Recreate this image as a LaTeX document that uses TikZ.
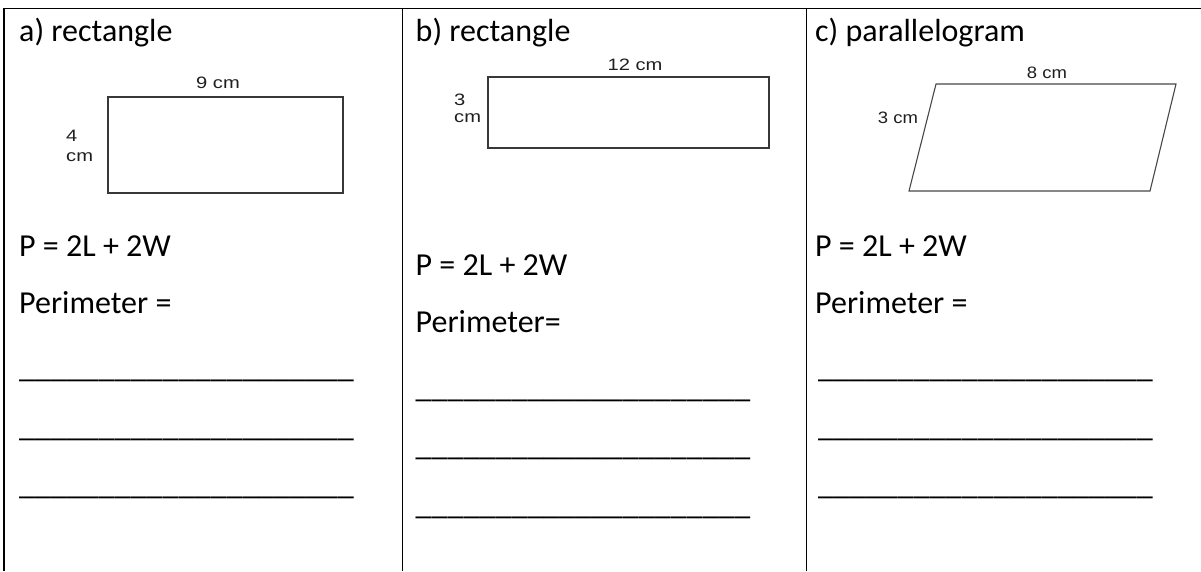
\documentclass[tikz,border=0pt]{standalone}
\usepackage{graphicx}
\usepackage{fontspec}
\setmainfont{Carlito}
\newfontfamily\arialf{Liberation Sans}
\newcommand\myblank{\_\_\_\_\_\_\_\_\_\_\_\_\_\_\_\_\_\_\_\_\_}
\begin{document}
\begin{tikzpicture}[x=1pt,y=-1pt,
  cell/.style={anchor=base west,inner sep=0pt,font=\fontsize{32}{38}\selectfont},
  dim/.style={inner sep=0pt,font=\arialf\fontsize{16.5}{19}\selectfont,text=black!88},
  shp/.style={draw=black!78,line width=1.9pt},
  thinshp/.style={draw=black!72,line width=1.1pt},
  grid/.style={line width=1.8pt}]
\useasboundingbox (0,0) rectangle (1201,571);
% table frame
\draw[grid] (4,571) -- (4,8.5) -- (1201,8.5);
\draw[grid] (402.5,8.5) -- (402.5,571);
\draw[grid] (806.5,8.5) -- (806.5,571);

% column a
\node[cell] (ta) at (19,41) {a) rectangle};
\draw[shp] (108,97) rectangle (343,193);
\node[dim] (wa) at (218,83) {\scalebox{1.22}[1]{9 cm}};
\node[dim,anchor=west] (ha1) at (66,136) {\scalebox{1.22}[1]{4}};
\node[dim,anchor=west] (ha2) at (66,157) {\scalebox{1.22}[1]{cm}};
\node[cell] (pa) at (19,256) {P = 2L + 2W};
\node[cell] (ma) at (19,313) {Perimeter =};
\node[cell] (la1) at (19,377) {\myblank};
\node[cell] (la2) at (19,436) {\myblank};
\node[cell] (la3) at (19,494) {\myblank};

% column b
\node[cell] (tb) at (415.5,41) {b) rectangle};
\draw[shp] (488,77) rectangle (769,148);
\node[dim] (wb) at (635,65) {\scalebox{1.22}[1]{12 cm}};
\node[dim,anchor=west] (hb1) at (454,100) {\scalebox{1.22}[1]{3}};
\node[dim,anchor=west] (hb2) at (454,118) {\scalebox{1.22}[1]{cm}};
\node[cell] (pb) at (415.5,275) {P = 2L + 2W};
\node[cell] (mb) at (415.5,332) {Perimeter=};
\node[cell] (lb1) at (415.5,397) {\myblank};
\node[cell] (lb2) at (415.5,455) {\myblank};
\node[cell] (lb3) at (415.5,514.3) {\myblank};

% column c
\node[cell] (tc) at (815,41) {c) parallelogram};
\draw[thinshp] (936,84) -- (1176,84) -- (1150,191) -- (909,191) -- cycle;
\node[dim] (wc) at (1047,73) {\scalebox{1.12}[1]{8 cm}};
\node[dim] (hc) at (898,118) {\scalebox{1.12}[1]{3 cm}};
\node[cell] (pc) at (815,256) {P = 2L + 2W};
\node[cell] (mc) at (815,313) {Perimeter =};
\node[cell] (lc1) at (818,377) {\myblank};
\node[cell] (lc2) at (818,436) {\myblank};
\node[cell] (lc3) at (818,494) {\myblank};
\end{tikzpicture}
\end{document}
